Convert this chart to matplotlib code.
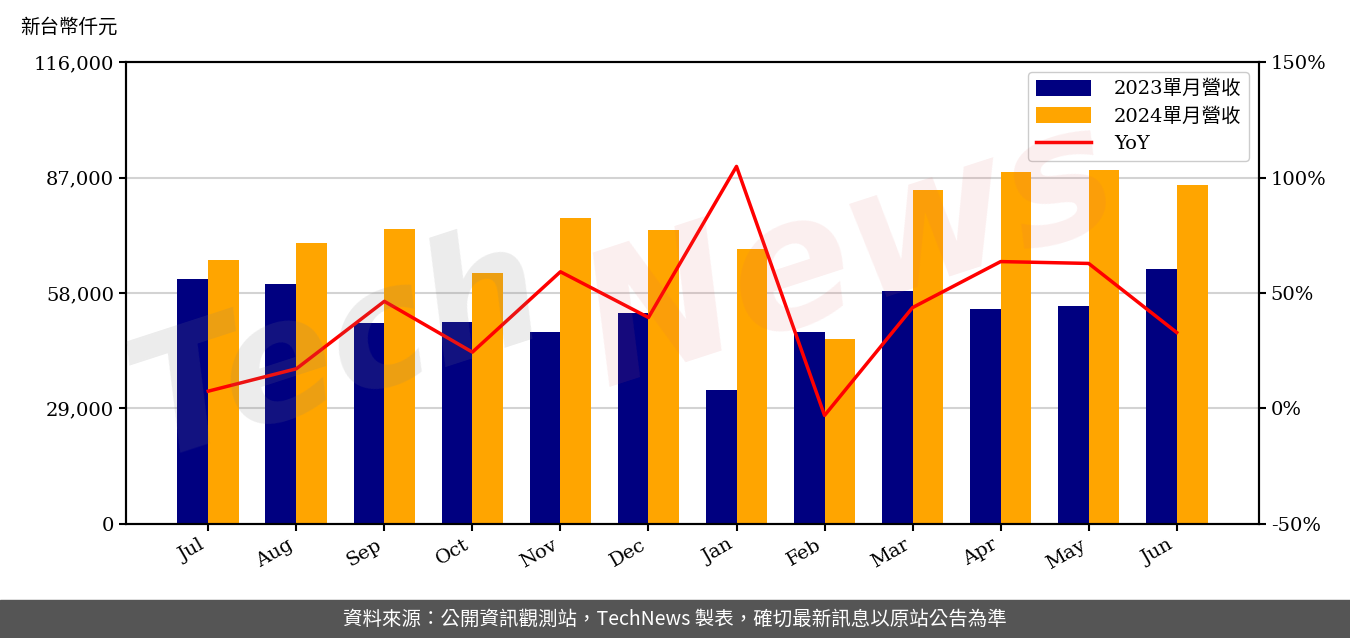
import numpy as np
import matplotlib
matplotlib.use("Agg")
import matplotlib.pyplot as plt
from matplotlib.ticker import FuncFormatter

plt.rcParams['font.family'] = ['DejaVu Serif', 'Noto Sans CJK TC', 'DejaVu Sans']

# data
months = ['Jul', 'Aug', 'Sep', 'Oct', 'Nov', 'Dec', 'Jan', 'Feb', 'Mar', 'Apr', 'May', 'Jun']
rev_2023 = [61500, 60300, 50500, 50800, 48200, 53000, 33600, 48200, 58500, 54000, 54700, 64000]
rev_2024 = [66300, 70550, 74100, 63000, 76800, 73800, 69000, 46450, 83900, 88400, 88900, 85100]
yoy = [0.075, 0.172, 0.464, 0.244, 0.592, 0.394, 1.048, -0.03, 0.437, 0.636, 0.628, 0.329]

left_ticks = [0, 29000, 58000, 87000, 116000]
right_ticks = [-0.5, 0, 0.5, 1.0, 1.5]

fig = plt.figure(figsize=(13.5, 6.38), dpi=100)
ax = fig.add_axes([0.0933, 0.1787, 0.8393, 0.7241])

x = np.arange(len(months))
w = 0.35
b1 = ax.bar(x - w/2, rev_2023, w, color='#000080', label='2023單月營收', zorder=2)
b2 = ax.bar(x + w/2, rev_2024, w, color='#FFA500', label='2024單月營收', zorder=2)

ax.set_ylim(0, 116000)
ax.set_yticks(left_ticks)
ax.yaxis.set_major_formatter(FuncFormatter(lambda v, p: '{:,.0f}'.format(v)))
ax.grid(axis='y', color='#d3d3d3', linewidth=1.5, zorder=0)
ax.set_axisbelow(True)
ax.set_xticks(x)
ax.set_xticklabels(months, rotation=30, ha='right')
ax.tick_params(labelsize=14, width=1.5, length=5)

ax2 = ax.twinx()
line, = ax2.plot(x, yoy, color='#FF0000', linewidth=2.5, label='YoY', zorder=3)
ax2.set_ylim(-0.5, 1.5)
ax2.set_yticks(right_ticks)
ax2.yaxis.set_major_formatter(FuncFormatter(lambda v, p: '{:.0f}%'.format(v * 100)))
ax2.tick_params(labelsize=14, width=1.5, length=5)

for a in (ax, ax2):
    for s in a.spines.values():
        s.set_linewidth(1.5)

ax2.legend([b1, b2, line], ['2023單月營收', '2024單月營收', 'YoY'], loc='upper right',
           fontsize=14, framealpha=1, edgecolor='#cccccc', handlelength=2.8,
           handleheight=0.9, borderpad=0.4, labelspacing=0.45, handletextpad=1.2)

# watermark
fig.text(0.25, 0.45, 'Tech', fontsize=120, fontstyle='italic', fontweight='bold',
         family='DejaVu Sans', color='gray', alpha=0.15, rotation=18,
         ha='center', va='center')
fig.text(0.63, 0.6, 'News', fontsize=130, fontstyle='italic', fontweight='bold',
         family='DejaVu Sans', color='#e06060', alpha=0.1, rotation=18,
         ha='center', va='center')

fig.text(0.015, 0.957, '新台幣仟元', fontsize=14, ha='left', va='center')

# footer
fig.patches.append(plt.Rectangle((0, 0), 1, 38/638, transform=fig.transFigure,
                                 color='#555555', zorder=0))
fig.text(0.5, 19/638, '資料來源：公開資訊觀測站，TechNews 製表，確切最新訊息以原站公告為準',
         fontsize=14, color='white', ha='center', va='center',
         family=['Noto Sans CJK TC', 'DejaVu Sans'])

fig.savefig('out.png', dpi=100)
